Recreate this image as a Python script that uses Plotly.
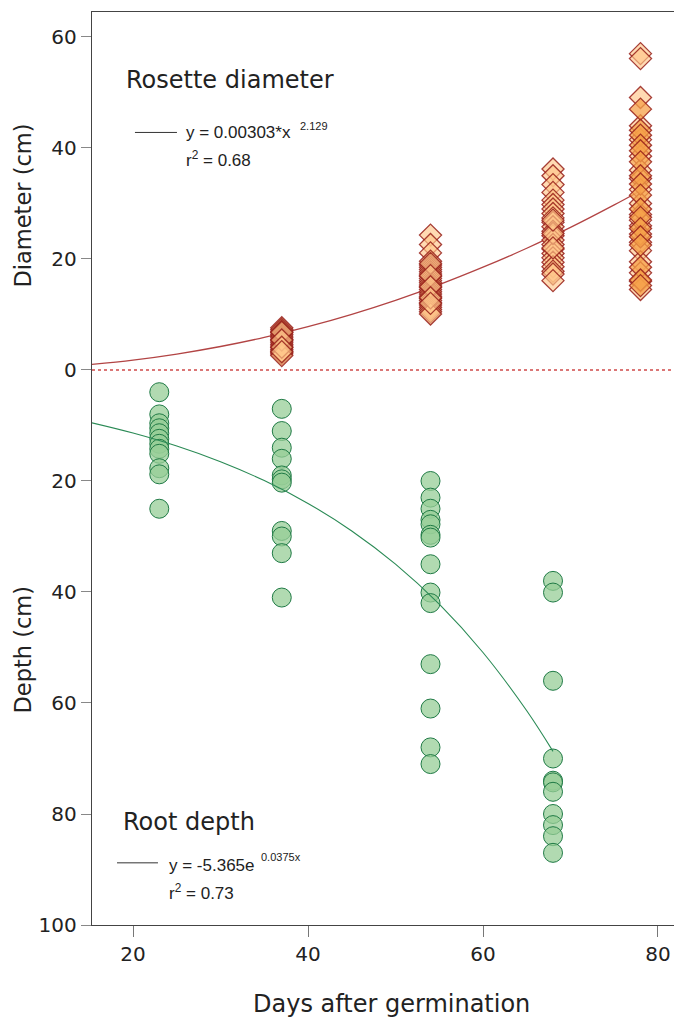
import plotly.graph_objects as go

# ---------------- data ----------------
x_ticks = [20, 40, 60, 80]
y_tickvals = [60, 40, 20, 0, -20, -40, -60, -80, -100]
y_ticktext = ["60", "40", "20", "0", "20", "40", "60", "80", "100"]

# root depth (cm, positive downward)
depth_23 = [4.0, 8.0, 9.6, 10.5, 11.4, 12.4, 13.3, 14.2, 15.1, 17.7, 18.8, 25.0]
depth_37 = [7.0, 11.0, 14.0, 16.0, 19.0, 19.7, 20.3, 29.0, 30.0, 33.0, 41.0]
depth_54 = [20.0, 23.0, 25.0, 27.0, 27.8, 29.7, 30.2, 35.0, 40.1, 42.0, 53.0, 61.0, 68.0, 71.0]
depth_68 = [38.0, 40.1, 56.0, 70.0, 74.0, 74.3, 76.0, 80.0, 82.0, 84.0, 87.0]

# rosette diameter (cm)
diam_37 = [7.6, 7.3, 7.0, 6.7, 6.4, 6.1, 5.8, 5.5, 5.2, 4.9, 4.6, 4.3, 4.0, 3.7,
           3.4, 3.1, 2.9, 2.6, 6.8, 5.4, 4.1, 3.3]
diam_54 = [24.3, 22.6, 21.1, 19.6, 18.9, 18.5, 18.1, 17.7, 17.3, 16.9, 16.5, 16.1,
           15.7, 15.3, 14.9, 14.5, 14.1, 13.7, 13.3, 12.9, 12.5, 12.1, 11.7, 11.3,
           10.9, 10.5, 10.1, 19.2, 17.0, 15.0, 13.0, 12.0]
diam_68 = [36.2, 35.0, 33.4, 32.0, 30.6, 29.8, 29.0, 28.2, 27.4, 26.6, 25.8, 25.0,
           24.2, 23.4, 22.6, 21.8, 21.0, 20.2, 19.4, 18.6, 17.8, 17.3, 16.1, 24.6,
           22.0, 27.0]
diam_78_light = [57.0, 56.1, 49.1, 44.0, 41.5, 38.5, 36.0, 34.5, 32.5, 30.0, 28.0,
                 26.0, 23.0, 21.5, 19.5, 17.5, 16.0, 14.5, 24.5, 27.0]
diam_78_orange = [47.0, 43.2, 42.3, 40.5, 39.5, 37.5, 35.0, 33.5, 31.5, 29.0, 27.5,
                  25.5, 24.0, 22.5, 18.5, 16.2, 15.2]

# fitted curves
fit_diam_x = [15.3, 20, 25, 30, 35, 40, 45, 50, 55, 60, 65, 70, 75, 78]
fit_diam_y = [1.01, 1.78, 2.87, 4.23, 5.87, 7.80, 10.03, 12.55, 15.38, 18.52,
              21.93, 25.69, 29.75, 32.3]
fit_depth_x = [15.3, 20, 25, 30, 35, 40, 45, 50, 55, 60, 65, 68]
fit_depth_y = [9.52, 11.36, 13.70, 16.53, 19.93, 24.04, 29.00, 34.99, 42.20,
               50.90, 61.40, 68.71]

# ---------------- figure ----------------
fig = go.Figure()

# diameter fit (behind diamonds)
fig.add_trace(go.Scatter(x=fit_diam_x, y=fit_diam_y, mode="lines",
                         line=dict(color="#b24444", width=1.3, shape="spline"),
                         hoverinfo="skip"))

diamond_edge = dict(color="rgba(150,30,25,0.85)", width=1.3)


def xs(day, vals):
    return [day] * len(vals)


for day, vals in [(37, diam_37), (54, diam_54), (68, diam_68), (78, diam_78_light)]:
    fig.add_trace(go.Scatter(x=xs(day, vals), y=vals, mode="markers",
                             marker=dict(symbol="diamond", size=17,
                                         color="rgba(255,198,138,0.65)",
                                         line=diamond_edge)))
fig.add_trace(go.Scatter(x=xs(78, diam_78_orange), y=diam_78_orange, mode="markers",
                         marker=dict(symbol="diamond", size=17,
                                     color="rgba(245,160,72,0.75)",
                                     line=diamond_edge)))

# root depth circles (plotted negative)
for day, vals in [(23, depth_23), (37, depth_37), (54, depth_54), (68, depth_68)]:
    fig.add_trace(go.Scatter(x=xs(day, vals), y=[-v for v in vals], mode="markers",
                             marker=dict(symbol="circle", size=19,
                                         color="rgba(151,206,151,0.75)",
                                         line=dict(color="#1f7a45", width=1))))

# depth fit (on top of circles)
fig.add_trace(go.Scatter(x=fit_depth_x, y=[-v for v in fit_depth_y], mode="lines",
                         line=dict(color="#2a8a55", width=1.1, shape="spline"),
                         hoverinfo="skip"))

# zero line + legend line samples
fig.add_shape(type="line", xref="paper", x0=0, x1=1, yref="y", y0=0, y1=0,
              line=dict(color="#d04a4a", width=1.5, dash="dot"))
fig.add_shape(type="line", xref="x", x0=20.22, x1=25.02, yref="y", y0=42.8, y1=42.8,
              line=dict(color="#333333", width=1))
fig.add_shape(type="line", xref="x", x0=18.17, x1=22.85, yref="y", y0=-88.8, y1=-88.8,
              line=dict(color="#333333", width=1))

big = dict(family="DejaVu Sans", size=24, color="#222222")
eq = dict(family="Liberation Sans, Arial", size=17, color="#222222")
sup = dict(family="Liberation Sans, Arial", size=11, color="#222222")

ann = [
    dict(x=18.97, y=52.25, text="Rosette diameter", font=big),
    dict(x=25.87, y=42.7, text="y = 0.00303*x", font=eq),
    dict(x=38.8, y=44.0, text="2.129", font=sup),
    dict(x=25.87, y=38.0, text="r<sup>2</sup> = 0.68", font=eq),
    dict(x=18.65, y=-81.4, text="Root depth", font=big),
    dict(x=23.92, y=-89.2, text="y = -5.365e", font=eq),
    dict(x=34.45, y=-87.8, text="0.0375x", font=sup),
    dict(x=23.92, y=-94.0, text="r<sup>2</sup> = 0.73", font=eq),
]
for a in ann:
    fig.add_annotation(xref="x", yref="y", xanchor="left", yanchor="middle",
                       showarrow=False, **a)

title_font = dict(family="DejaVu Sans", size=22.5, color="#222222")
fig.add_annotation(xref="paper", yref="paper", x=-0.1177, y=0.7886, text="Diameter (cm)",
                   textangle=-90, showarrow=False, font=title_font,
                   xanchor="center", yanchor="middle")
fig.add_annotation(xref="paper", yref="paper", x=-0.1177, y=0.3023, text="Depth (cm)",
                   textangle=-90, showarrow=False, font=title_font,
                   xanchor="center", yanchor="middle")
fig.add_annotation(xref="paper", yref="paper", x=0.514, y=-0.0865,
                   text="Days after germination", showarrow=False,
                   font=dict(family="DejaVu Sans", size=24, color="#222222"),
                   xanchor="center", yanchor="middle")

fig.update_layout(
    width=674, height=1020,
    margin=dict(l=92, r=0, t=12, b=95),
    paper_bgcolor="white", plot_bgcolor="white",
    showlegend=False,
    xaxis=dict(range=[15.31, 81.83], tickvals=x_ticks, ticks="outside", ticklen=11,
               tickcolor="#777777", showline=True, linecolor="#444444", linewidth=1.2,
               mirror=True, showgrid=False, zeroline=False, automargin=False,
               tickfont=dict(family="DejaVu Sans", size=20, color="#222222")),
    yaxis=dict(range=[-100, 64.5], tickvals=y_tickvals, ticktext=y_ticktext,
               ticks="outside", ticklen=10, tickcolor="#888888", showline=True,
               linecolor="#444444", linewidth=1.2, showgrid=False, zeroline=False,
               automargin=False,
               tickfont=dict(family="DejaVu Sans", size=20, color="#222222")),
)

# remove the default page margin so the 674x1020 figure fills the window exactly
page_js = ("document.body.style.margin='0';"
           "document.body.style.overflow='hidden';"
           "document.documentElement.style.overflow='hidden';")
fig.write_html("out.html", post_script=page_js,
               config={"displayModeBar": False, "staticPlot": True})
